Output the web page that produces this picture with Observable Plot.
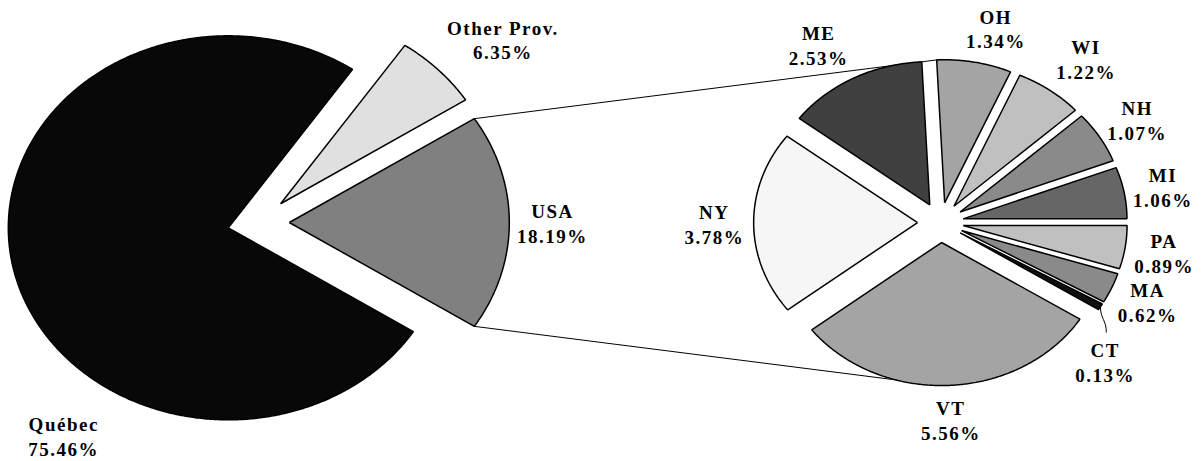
<!DOCTYPE html>
<html><head><meta charset="utf-8">
<script src="https://cdn.jsdelivr.net/npm/d3@7"></script>
<script src="https://cdn.jsdelivr.net/npm/@observablehq/plot@0.6"></script>
<style>body{margin:0;background:#fff}#chart svg{display:block}</style>
</head><body><div id="chart"></div>
<script>
// ---- data ----
const mainNames = ["Québec", "Other Prov.", "USA"];
const mainValues = [75.46, 6.35, 18.19];
const stateNames = ["OH", "WI", "NH", "MI", "PA", "MA", "CT", "VT", "NY", "ME"];
const stateValues = [1.34, 1.22, 1.07, 1.06, 0.89, 0.62, 0.13, 5.56, 3.78, 2.53];

// ---- styles ----
const mainColors = ["#080808", "#e0e0e0", "#808080"];
const stateColors = ["#a4a4a4", "#c0c0c0", "#8a8a8a", "#666666", "#c0c0c0", "#8a8a8a", "#101010", "#a4a4a4", "#f6f6f6", "#404040"];
const W = 1202, H = 461;
const mainCenter = [0, 0], mainR = 1;
const secondCenter = [3.1, 0], secondR = 0.745;
const explode = 0.14;
const secondStart = -2.8;
const labelR = 1.38;
const nudge = {
  "Québec": {da: -40, r: 1.42},
  "Other Prov.": {da: 3.5, r: 1.465},
  "USA": {da: 0, r: 1.336},
  "OH": {da: 3.5, r: 1.40},
  "WI": {da: 2, r: 1.45},
  "NH": {da: 0.6, r: 1.40},
  "CT": {da: 13, r: 1.40},
  "ME": {da: -3, r: 1.45}
};

const rad = d => d * Math.PI / 180;
const pt = (c, r, deg) => [c[0] + r * Math.sin(rad(deg)), c[1] + r * Math.cos(rad(deg))];

function makeSlices(names, values, center, R, start, colors) {
  const total = d3.sum(values);
  let a = start;
  return names.map((n, i) => {
    const span = values[i] / total * 360;
    const s = {name: n, value: values[i], a0: a, a1: a + span, mid: a + span / 2, color: colors[i], center, R};
    s.apex = pt(center, R * explode, s.mid);
    a += span;
    return s;
  });
}

const usaSpan = mainValues[2] / d3.sum(mainValues) * 360;
const mainSlices = makeSlices(mainNames, mainValues, mainCenter, mainR, 90 + usaSpan / 2, mainColors);
const stateSlices = makeSlices(stateNames, stateValues, secondCenter, secondR, secondStart, stateColors);
const all = [...mainSlices, ...stateSlices];

function polygon(s) {
  const pts = [s.apex];
  const n = Math.max(4, Math.ceil((s.a1 - s.a0) / 0.5));
  for (let k = 0; k <= n; k++) pts.push(pt(s.apex, s.R, s.a0 + (s.a1 - s.a0) * k / n));
  pts.push(s.apex);
  return pts;
}

const usa = mainSlices[2];
const connectors = [
  [pt(usa.apex, usa.R, usa.a0), pt(secondCenter, secondR * (1 + explode), 0)],
  [pt(usa.apex, usa.R, usa.a1), pt(secondCenter, secondR * (1 + explode), 180)]
];

const labels = all.map(s => {
  const nd = nudge[s.name] || {da: 0, r: labelR};
  const p = pt(s.center, s.R * nd.r, s.mid + nd.da);
  return {x: p[0], y: p[1], text: `${s.name}\n${s.value.toFixed(2)}%`, name: s.name};
});

const ct = stateSlices[6];
const ctLab = labels.find(l => l.name === "CT");
const leader = [pt(secondCenter, secondR * (1 + explode), ct.mid), [ctLab.x + 0.005, ctLab.y + 0.155]];

const marks = [
  ...connectors.map(c => Plot.line(c, {x: d => d[0], y: d => d[1], stroke: "black", strokeWidth: 1})),
  ...all.map(s => Plot.line(polygon(s), {
    x: d => d[0], y: d => d[1], fill: s.color, stroke: "black", strokeWidth: 1.5,
    strokeLinejoin: "miter", strokeLinecap: "butt"
  })),
  Plot.line(leader, {x: d => d[0], y: d => d[1], stroke: "black", strokeWidth: 1, curve: "bump-y"}),
  Plot.text(labels, {
    x: "x", y: "y", text: "text", fontSize: 19, fontWeight: "bold",
    fontFamily: "'Liberation Serif', 'Times New Roman', serif", lineHeight: 1.3, lineAnchor: "middle",
    textAnchor: "middle", fill: "black"
  })
];

const chart = Plot.plot({
  width: W, height: H, margin: 0,
  style: {background: "white", letterSpacing: "1.5px", overflow: "visible"},
  x: {domain: [-258 / 220, (W - 258) / 220], axis: null},
  y: {domain: [(222 - H) / 192, 222 / 192], axis: null},
  marks
});
document.getElementById("chart").append(chart);
</script>
</body></html>
